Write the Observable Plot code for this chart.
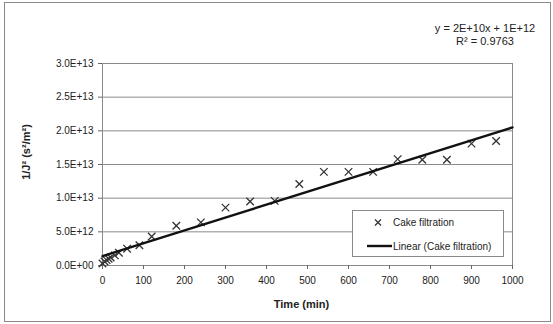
<!DOCTYPE html>
<html><head><meta charset="utf-8">
<script src="https://cdn.jsdelivr.net/npm/d3@7"></script>
<script src="https://cdn.jsdelivr.net/npm/@observablehq/plot@0.6"></script>
<style>
body{margin:0;background:#fff;font-family:"Liberation Sans",Arial,sans-serif}
#chart{position:relative;width:553px;height:324px}
</style>
</head><body><div id="chart"></div>
<script>
// ---- data ----
const times  = [0, 5, 10, 15, 20, 30, 40, 60, 90, 120, 180, 240, 300, 360, 420, 480, 540, 600, 660, 720, 780, 840, 900, 960];
const values = [0.3e12, 0.6e12, 0.8e12, 1.0e12, 1.2e12, 1.5e12, 1.9e12, 2.5e12, 3.0e12, 4.3e12, 5.9e12, 6.4e12, 8.6e12, 9.5e12, 9.6e12, 12.1e12, 13.9e12, 13.9e12, 13.9e12, 15.8e12, 15.7e12, 15.7e12, 18.1e12, 18.5e12];
const trendX = [0, 1000];
const trendY = [1.4e12, 2.05e13];
const xTicks = [0, 100, 200, 300, 400, 500, 600, 700, 800, 900, 1000];
const yTicks = [0, 5e12, 1e13, 1.5e13, 2e13, 2.5e13, 3e13];
const seriesName = "Cake filtration";
const trendName = "Linear (Cake filtration)";
const equationLines = ["y = 2E+10x + 1E+12", "R² = 0.9763"];
const xLabel = "Time (min)";
const yLabel = "1/J² (s²/m²)";

const fmtE = d => {
  if (d === 0) return "0.0E+00";
  const e = Math.floor(Math.log10(d) + 1e-9);
  const m = d / Math.pow(10, e);
  return m.toFixed(1) + "E+" + String(e).padStart(2, "0");
};

const points = times.map((t, i) => ({t, v: values[i]}));
const trend = trendX.map((x, i) => ({x, y: trendY[i]}));

const W = 553, H = 324, ML = 102, MR = 41, MT = 63, MB = 59;
const font = "Liberation Sans, Arial, sans-serif";

const svgEl = Plot.plot({
  width: W, height: H,
  marginLeft: ML, marginRight: MR, marginTop: MT, marginBottom: MB,
  style: {background: "transparent", fontFamily: font, fontSize: "10px", color: "#222", overflow: "visible"},
  x: {domain: [0, 1000], label: null},
  y: {domain: [0, 3e13], label: null},
  marks: [
    Plot.gridY(yTicks, {stroke: "#8a8a8a", strokeOpacity: 1}),
    Plot.frame({stroke: "#8a8a8a"}),
    Plot.axisX(xTicks, {tickSize: 4, tickPadding: 7, stroke: "#666", fill: "#222", fontSize: 10, tickFormat: d => String(d), label: null}),
    Plot.axisY(yTicks, {tickSize: 4, tickPadding: 5, stroke: "#666", fill: "#222", fontSize: 10, tickFormat: fmtE, label: null}),
    Plot.dot(points, {x: "t", y: "v", symbol: "times", r: 3.5, stroke: "#333", strokeWidth: 1.3}),
    Plot.line(trend, {x: "x", y: "y", stroke: "#111", strokeWidth: 2.4})
  ]
});
document.getElementById("chart").appendChild(svgEl);

const svg = d3.select(svgEl);
// outer chart border
svg.insert("rect", ":first-child")
  .attr("x", 4.5).attr("y", 2.5).attr("width", 546).attr("height", 319)
  .attr("fill", "#fff").attr("stroke", "#8a8a8a");

// axis titles
svg.append("text").attr("x", 301.5).attr("y", 304).attr("dy", "0.35em")
  .attr("text-anchor", "middle").attr("font-family", font).attr("font-size", 11)
  .attr("font-weight", "bold").attr("fill", "#222").text(xLabel);
svg.append("text").attr("transform", "translate(26,152) rotate(-90)").attr("dy", "0.35em")
  .attr("text-anchor", "middle").attr("font-family", font).attr("font-size", 11)
  .attr("font-weight", "bold").attr("fill", "#222").text(yLabel);

// trendline equation
equationLines.forEach((s, i) => {
  svg.append("text").attr("x", 485).attr("y", 28 + i * 13.5).attr("dy", "0.35em")
    .attr("text-anchor", "middle").attr("font-family", font).attr("font-size", 11)
    .attr("fill", "#222").text(s);
});

// legend
const lg = svg.append("g").attr("text-anchor", "start");
lg.append("rect").attr("x", 352.5).attr("y", 210.5).attr("width", 151).attr("height", 46)
  .attr("fill", "#fff").attr("stroke", "#8a8a8a");
const xs = 378, y1 = 222.5, y2 = 246;
lg.append("path").attr("d", `M${xs-3},${y1-3}L${xs+3},${y1+3}M${xs-3},${y1+3}L${xs+3},${y1-3}`)
  .attr("stroke", "#333").attr("stroke-width", 1.3);
lg.append("line").attr("x1", 367).attr("x2", 392).attr("y1", y2).attr("y2", y2)
  .attr("stroke", "#111").attr("stroke-width", 2.4);
lg.append("text").attr("x", 393).attr("y", y1).attr("dy", "0.35em").attr("text-anchor", "start")
  .attr("font-family", font).attr("font-size", 10).attr("fill", "#222").text(seriesName);
lg.append("text").attr("x", 393).attr("y", y2).attr("dy", "0.35em").attr("text-anchor", "start")
  .attr("font-family", font).attr("font-size", 10).attr("fill", "#222").text(trendName);
</script>
</body></html>
